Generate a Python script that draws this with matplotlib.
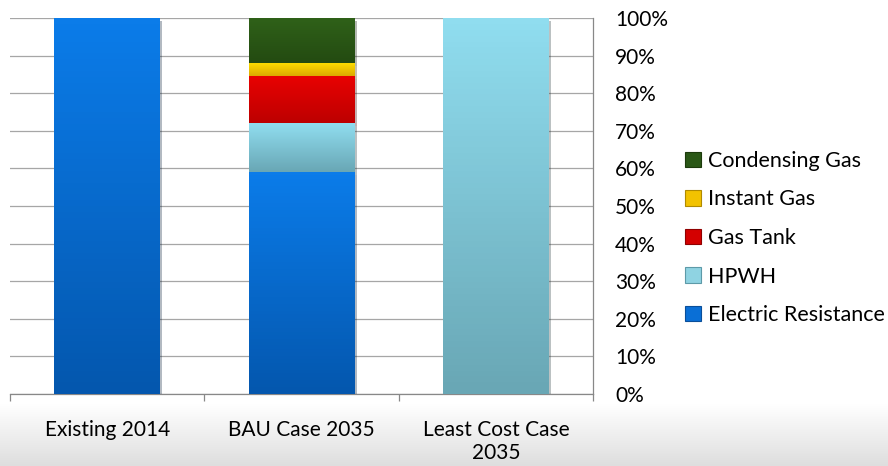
import matplotlib
matplotlib.use("Agg")
import matplotlib.pyplot as plt
import matplotlib.patheffects as pe
import numpy as np
from matplotlib.colors import LinearSegmentedColormap
from matplotlib.patches import Patch
from matplotlib.ticker import PercentFormatter

plt.rcParams["font.family"] = ["Lato", "DejaVu Sans"]

categories = ["Existing 2014", "BAU Case 2035", "Least Cost Case\n2035"]
series_names = ["Electric Resistance", "HPWH", "Gas Tank", "Instant Gas", "Condensing Gas"]
electric_resistance = [1.00, 0.59, 0.00]
hpwh = [0.00, 0.13, 1.00]
gas_tank = [0.00, 0.125, 0.00]
instant_gas = [0.00, 0.035, 0.00]
condensing_gas = [0.00, 0.12, 0.00]
series_values = [electric_resistance, hpwh, gas_tank, instant_gas, condensing_gas]

top_colors = ["#0b7ce9", "#90ddef", "#e80202", "#ffe000", "#2f6119"]
bottom_colors = ["#0457ae", "#69a7b5", "#bd0000", "#dcaa00", "#244b11"]
legend_colors = ["#0a6fd6", "#8fd3e2", "#d40000", "#f2c200", "#2a5716"]
legend_edges = ["#0a4f9a", "#5d9aa8", "#900000", "#b08a00", "#1c3a0c"]

W, H = 888, 466
fig = plt.figure(figsize=(W / 100, H / 100), dpi=100)

# grey gradient band under the category labels
bg = fig.add_axes([0, 0, 1, 62 / H])
bg.imshow(np.linspace(0, 1, 100).reshape(-1, 1), aspect="auto", origin="lower",
          extent=(0, 1, 0, 1),
          cmap=LinearSegmentedColormap.from_list("bg", ["#dedede", "#ffffff"]))
bg.axis("off")

ax = fig.add_axes([10 / W, 72 / H, 583 / W, 376 / H])
ax.set_facecolor("none")

x = np.arange(len(categories))
bottom = np.zeros(len(categories))
grad = np.linspace(0, 1, 64).reshape(-1, 1)
for name, vals, c_top, c_bot in zip(series_names, series_values, top_colors, bottom_colors):
    vals = np.array(vals)
    bars = ax.bar(x, vals, 0.545, bottom=bottom, color=c_bot, linewidth=0, zorder=3,
                  label=name,
                  path_effects=[pe.SimplePatchShadow(offset=(1.5, -2), alpha=0.3), pe.Normal()])
    cmap = LinearSegmentedColormap.from_list(name, [c_bot, c_top])
    for b in bars:
        if b.get_height() <= 0:
            continue
        img = ax.imshow(grad, cmap=cmap, aspect="auto", origin="lower", zorder=3.5,
                        extent=(b.get_x(), b.get_x() + b.get_width(),
                                b.get_y(), b.get_y() + b.get_height()))
        img.set_clip_path(b)
    bottom += vals

ax.set_xlim(-0.5, len(categories) - 0.5)
ax.set_ylim(0, 1)
ax.set_aspect("auto")

ax.yaxis.tick_right()
ax.set_yticks(np.arange(0, 1.01, 0.1))
ax.yaxis.set_major_formatter(PercentFormatter(1.0, decimals=0))
ax.tick_params(axis="y", length=0, pad=16, labelsize=15, labelcolor="#000000")
ax.grid(axis="y", color="#a6a6a6", lw=0.9, zorder=0)

ax.set_xticks(np.arange(-0.5, len(categories), 1.0))
ax.set_xticklabels([])
ax.set_xticks(x, minor=True)
ax.set_xticklabels(categories, minor=True, linespacing=1.15)
ax.tick_params(axis="x", which="major", length=5, color="#888888", width=0.9)
ax.tick_params(axis="x", which="minor", length=0, pad=19, labelsize=15)

for side in ["left", "top"]:
    ax.spines[side].set_visible(False)
for side in ["right", "bottom"]:
    ax.spines[side].set_color("#888888")
    ax.spines[side].set_linewidth(0.9)

handles = [Patch(facecolor=fc, edgecolor=ec, lw=0.8, label=n)
           for n, fc, ec in zip(series_names, legend_colors, legend_edges)]
fig.legend(handles[::-1], series_names[::-1], loc="center left",
           bbox_to_anchor=(685 / W, 1 - 238 / H), frameon=False, fontsize=15.5,
           handlelength=0.72, handleheight=0.72, handletextpad=0.33,
           labelspacing=0.86, borderpad=0, borderaxespad=0)

fig.savefig("out.png", dpi=100)
